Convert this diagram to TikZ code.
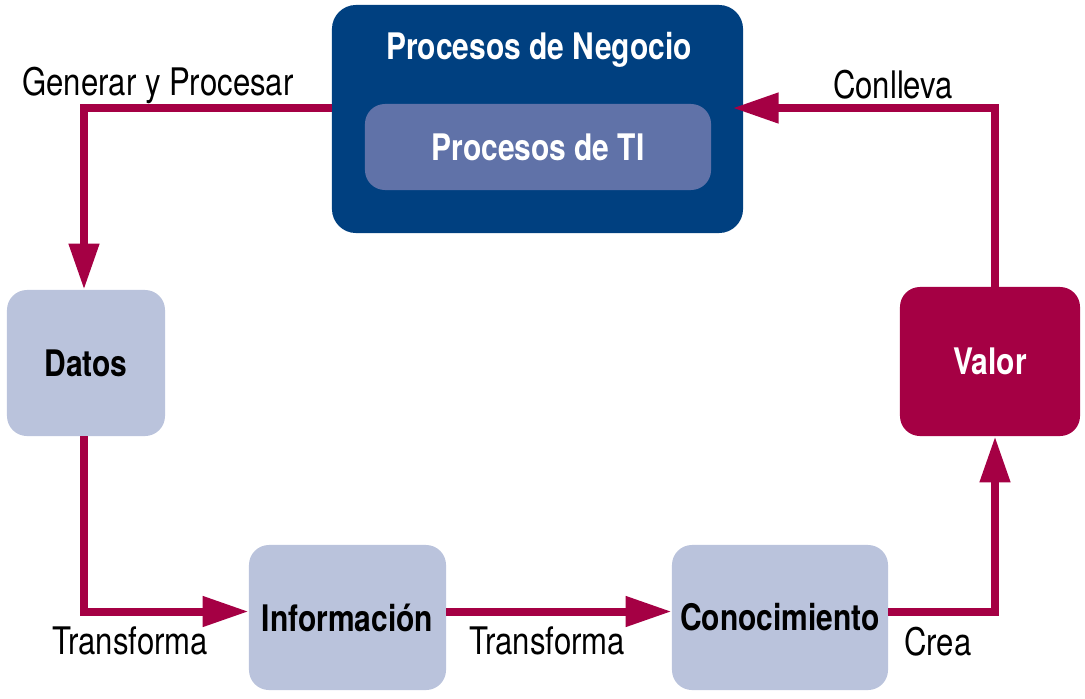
\documentclass[tikz,border=0pt]{standalone}
\usepackage{fontspec}
\setmainfont{TeX Gyre Heros}[FakeStretch=0.82]
\usetikzlibrary{arrows.meta}
\definecolor{negocioblue}{RGB}{0,64,128}
\definecolor{tiblue}{RGB}{96,114,168}
\definecolor{lightbox}{RGB}{186,195,220}
\definecolor{valorred}{RGB}{165,0,68}
\tikzset{
    box/.style={rounded corners=0.5cm, inner sep=0pt, font=\bfseries\fontsize{26}{29}\selectfont},
    palebox/.style={box, fill=lightbox, text=black},
    flow/.style={draw=valorred, line width=0.2cm, -{Triangle[length=1.15cm, width=0.72cm]}},
    tag/.style={font=\fontsize{27}{30}\selectfont, inner sep=0pt}
}
\begin{document}
\begin{tikzpicture}[x=0.025cm, y=-0.025cm]
        \useasboundingbox (0,0) rectangle (1085,698);

        \node[box, fill=negocioblue, minimum width=10.275cm, minimum height=5.7cm, rounded corners=0.6cm] (negocio) at (537.5,119) {};
        \node[box, text=white] (negociotitle) at (539,50) {Procesos de Negocio};
        \node[box, fill=tiblue, text=white, minimum width=8.65cm, minimum height=2.15cm] (ti) at (538,147) {Procesos de TI};

        \node[palebox, minimum width=3.95cm, minimum height=3.65cm] (datos) at (86,363) {Datos};
        \node[palebox, minimum width=4.925cm, minimum height=3.625cm] (info) at (347.5,617.5) {Información};
        \node[palebox, minimum width=5.4cm, minimum height=3.625cm] (conoc) at (780,617.5) {Conocimiento};
        \node[box, fill=valorred, text=white, minimum width=4.5cm, minimum height=3.725cm] (valor) at (990,361.5) {Valor};

        \draw[flow] ([yshift=0.275cm]negocio.west) -| ([xshift=-0.05cm]datos.north);
        \draw[flow] ([xshift=-0.05cm]datos.south) |- ([yshift=0.15cm]info.west);
        \draw[flow] ([yshift=0.15cm]info.east) -- ([yshift=0.15cm]conoc.west);
        \draw[flow] ([yshift=0.15cm]conoc.east) -| ([xshift=0.125cm]valor.south);
        \draw[flow, shorten >=-0.27cm] ([xshift=0.125cm]valor.north) |- ([yshift=0.275cm]negocio.east);

        \node[tag] (generar) at (158,85) {Generar y Procesar};
        \node[tag] (conlleva) at (893,85) {Conlleva};
        \node[tag] (transforma1) at (130,641) {Transforma};
        \node[tag] (transforma2) at (547,641) {Transforma};
        \node[tag] (crea) at (938,642) {Crea};
    \end{tikzpicture}
\end{document}
